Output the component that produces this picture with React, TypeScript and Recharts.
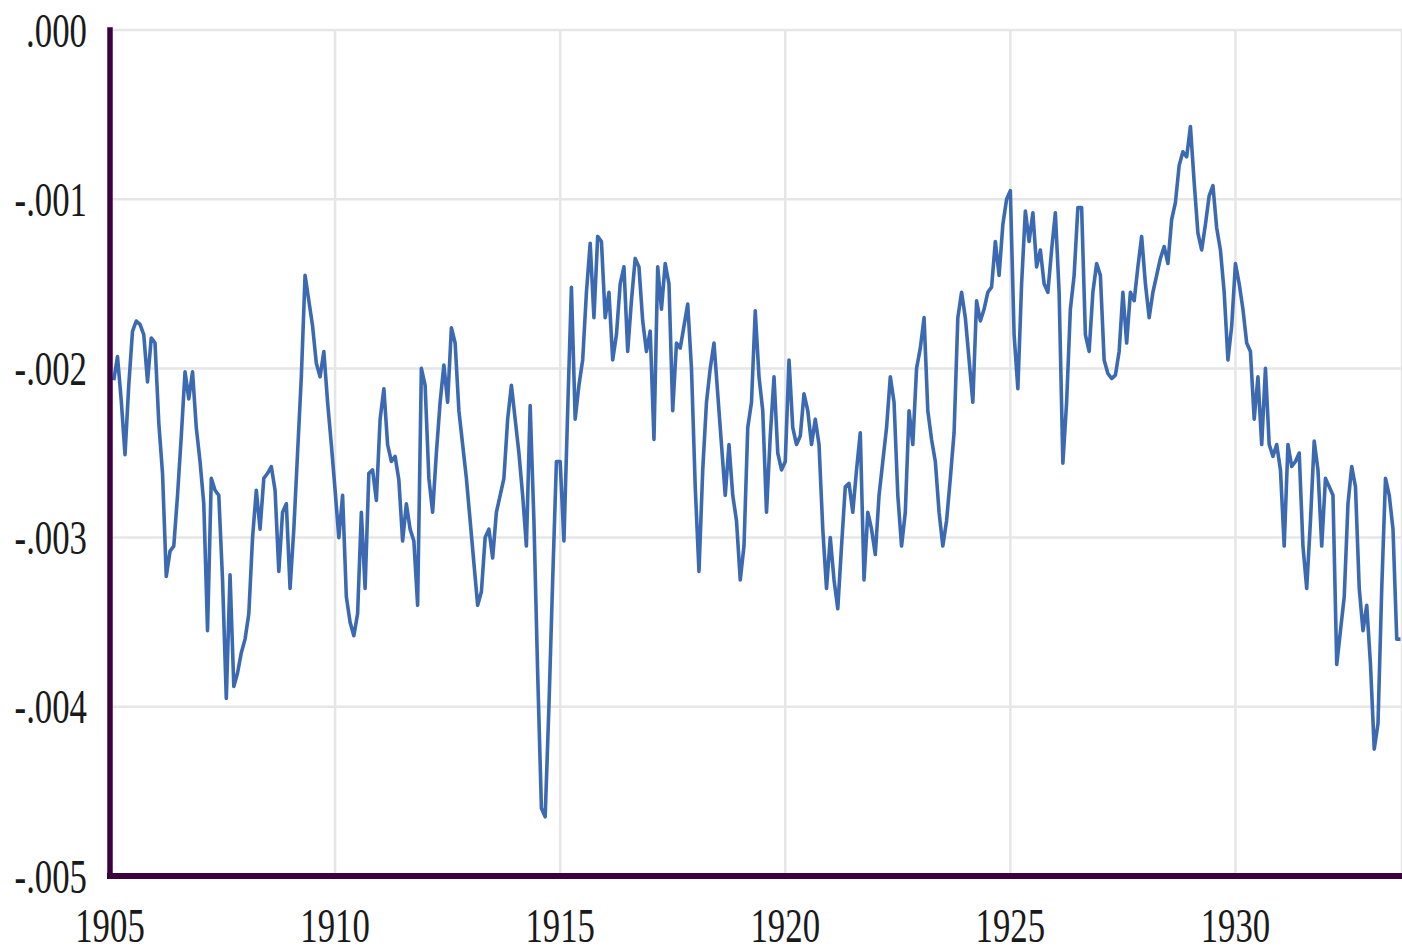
import React from 'react';
import { LineChart, Line, XAxis, YAxis, CartesianGrid } from 'recharts';

// x axis
const START_YEAR = 1905;
const END_YEAR = 1933.7;
const X_TICKS = [1905, 1910, 1915, 1920, 1925, 1930];
// y axis
const Y_TICKS = [0, -0.001, -0.002, -0.003, -0.004, -0.005];

// Monthly values in thousandths (x 0.001). First value is Feb 1905.
const vals1905 = [
  -2.07, -1.93, -2.19, -2.51, -2.10, -1.78, -1.72, -1.74, -1.80, -2.08, -1.82,
  -1.85, -2.32, -2.62, -3.23, -3.08, -3.05, -2.75, -2.40, -2.02, -2.18, -2.02, -2.35,
  -2.55, -2.80, -3.55, -2.65, -2.72, -2.75, -3.25, -3.95, -3.22, -3.88, -3.80, -3.68,
  -3.60, -3.45, -3.00, -2.72, -2.95, -2.65, -2.62, -2.58, -2.72, -3.20, -2.85, -2.80,
  -3.30, -2.95, -2.50, -2.05, -1.45, -1.60, -1.75, -1.97, -2.05, -1.90, -2.20, -2.45,
];
const vals1910 = [
  -2.72, -3.00, -2.75, -3.35, -3.50, -3.58, -3.45, -2.85, -3.30, -2.62, -2.60, -2.78,
  -2.30, -2.12, -2.45, -2.55, -2.52, -2.66, -3.02, -2.80, -2.95, -3.02, -3.40, -2.00,
  -2.10, -2.65, -2.85, -2.50, -2.20, -1.98, -2.20, -1.76, -1.85, -2.25, -2.45, -2.65,
  -2.90, -3.15, -3.40, -3.32, -3.00, -2.95, -3.12, -2.85, -2.75, -2.65, -2.30, -2.10,
  -2.30, -2.50, -2.75, -3.05, -2.22, -2.90, -3.80, -4.60, -4.65, -4.00, -3.25, -2.55,
];
const vals1915 = [
  -2.55, -3.02, -2.25, -1.52, -2.30, -2.10, -1.95, -1.55, -1.26, -1.70, -1.22, -1.25,
  -1.70, -1.55, -1.95, -1.80, -1.50, -1.40, -1.90, -1.60, -1.35, -1.40, -1.72, -1.90,
  -1.78, -2.42, -1.40, -1.65, -1.38, -1.50, -2.25, -1.85, -1.88, -1.75, -1.62, -2.00,
  -2.70, -3.20, -2.60, -2.20, -2.00, -1.85, -2.15, -2.45, -2.75, -2.45, -2.75, -2.90,
  -3.25, -3.05, -2.35, -2.20, -1.66, -2.05, -2.25, -2.85, -2.40, -2.05, -2.50, -2.60,
];
const vals1920 = [
  -2.55, -1.95, -2.35, -2.45, -2.40, -2.15, -2.25, -2.45, -2.30, -2.45, -2.95, -3.30,
  -3.00, -3.25, -3.42, -3.05, -2.70, -2.68, -2.85, -2.60, -2.38, -3.25, -2.85, -2.95,
  -3.10, -2.75, -2.55, -2.35, -2.05, -2.20, -2.75, -3.05, -2.85, -2.25, -2.45, -2.00,
  -1.88, -1.70, -2.25, -2.42, -2.55, -2.85, -3.05, -2.90, -2.65, -2.38, -1.70, -1.55,
  -1.70, -1.95, -2.20, -1.60, -1.72, -1.65, -1.55, -1.52, -1.25, -1.45, -1.15, -1.00,
];
const vals1925 = [
  -0.95, -1.80, -2.12, -1.50, -1.07, -1.25, -1.08, -1.40, -1.30, -1.50, -1.55, -1.30,
  -1.08, -1.55, -2.56, -2.20, -1.65, -1.45, -1.05, -1.05, -1.80, -1.90, -1.55, -1.38,
  -1.45, -1.95, -2.03, -2.06, -2.04, -1.90, -1.55, -1.85, -1.55, -1.60, -1.40, -1.22,
  -1.50, -1.70, -1.55, -1.45, -1.35, -1.28, -1.38, -1.12, -1.02, -0.80, -0.72, -0.75,
  -0.57, -0.90, -1.20, -1.30, -1.15, -0.98, -0.92, -1.17, -1.30, -1.55, -1.95, -1.75,
];
const vals1930 = [
  -1.38, -1.50, -1.65, -1.85, -1.90, -2.30, -2.05, -2.45, -2.00, -2.45, -2.52, -2.45,
  -2.60, -3.05, -2.45, -2.58, -2.55, -2.50, -3.05, -3.30, -2.90, -2.43, -2.60, -3.05,
  -2.65, -2.70, -2.75, -3.75, -3.55, -3.35, -2.80, -2.58, -2.70, -3.30, -3.55, -3.40,
  -3.75, -4.25, -4.10, -3.30, -2.65, -2.75, -2.95, -3.60, -3.60,
];

const series = [...vals1905, ...vals1910, ...vals1915, ...vals1920, ...vals1925, ...vals1930];
const data = series.map((v, i) => ({ t: START_YEAR + (i + 1) / 12, v: v / 1000 }));

const FONT = '"Liberation Serif", "Times New Roman", serif';
const AXIS_COLOR = '#3c003c';
const LINE_COLOR = '#3b6ab2';
const GRID_COLOR = '#e6e6e6';
const FONT_SIZE = 49;
const SCALE_X = 0.71;

const fmtY = (v: number) => {
  const s = Math.abs(v).toFixed(3).replace(/^0/, '');
  return v < -1e-12 ? '-' + s : s;
};

const YTick = (props: any) => {
  const { x, y, payload } = props;
  return (
    <text
      transform={`translate(${x},${y + FONT_SIZE * 0.34}) scale(${SCALE_X},1)`}
      textAnchor="end"
      fontSize={FONT_SIZE}
      fontFamily={FONT}
      fill="#1a1a1a"
    >
      {fmtY(payload.value)}
    </text>
  );
};

const XTick = (props: any) => {
  const { x, y, payload } = props;
  return (
    <text
      transform={`translate(${x},${y + 58}) scale(${SCALE_X},1)`}
      textAnchor="middle"
      fontSize={FONT_SIZE}
      fontFamily={FONT}
      fill="#1a1a1a"
    >
      {String(payload.value)}
    </text>
  );
};

export default function App() {
  return (
    <div style={{ position: 'absolute', left: 0, top: 0, width: 1402, height: 948, background: '#fff', overflow: 'hidden' }}>
      <LineChart width={1402} height={948} data={data} margin={{ top: 30, right: 0, bottom: 0, left: 0 }}>
        <CartesianGrid stroke={GRID_COLOR} strokeWidth={2.5} />
        <XAxis
          dataKey="t"
          type="number"
          domain={[START_YEAR, END_YEAR]}
          ticks={X_TICKS}
          allowDataOverflow
          height={72}
          tickLine={false}
          tickMargin={2}
          axisLine={{ stroke: AXIS_COLOR, strokeWidth: 6, strokeLinecap: 'square' }}
          tick={<XTick />}
          interval={0}
        />
        <YAxis
          type="number"
          domain={[-0.005, 0]}
          ticks={Y_TICKS}
          width={110}
          tickLine={false}
          tickMargin={17}
          axisLine={{ stroke: AXIS_COLOR, strokeWidth: 5.5, strokeLinecap: 'square' }}
          tick={<YTick />}
          interval={0}
        />
        <Line
          type="linear"
          dataKey="v"
          stroke={LINE_COLOR}
          strokeWidth={3.6}
          dot={false}
          strokeLinejoin="round"
          isAnimationActive={false}
        />
      </LineChart>
    </div>
  );
}
